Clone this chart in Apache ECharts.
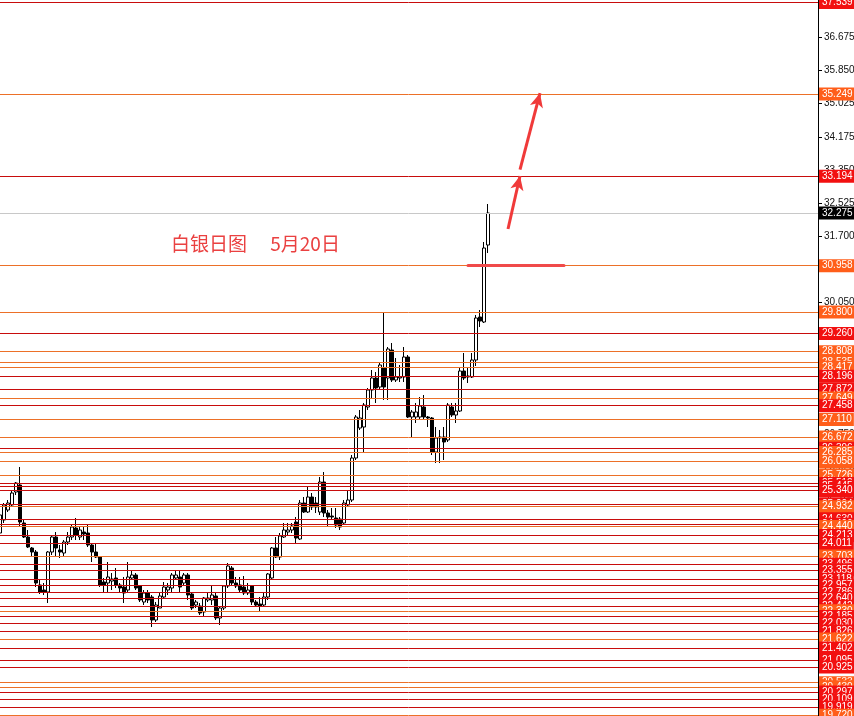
<!DOCTYPE html>
<html>
<head>
<meta charset="utf-8">
<script src="https://cdn.jsdelivr.net/npm/echarts@6/dist/echarts.min.js"></script>
<style>
html,body{margin:0;padding:0;background:#fff;}
#chart{width:854px;height:716px;}
</style>
</head>
<body>
<div id="chart"></div>
<script>
// Daily silver candles: [open, close, low, high]
const candles = [
[24.275,24.725,24.2,24.975],[24.6,24.975,24.525,25.025],[24.85,25.025,24.8,25.1],[24.975,25.275,24.925,25.35],
[25.3,25.525,25.225,25.55],[25.475,24.55,24.425,25.925],[24.525,24.175,24.15,24.6],[24.175,23.925,23.9,24.35],
[23.9,23.8,23.675,23.925],[23.8,23.025,22.925,23.85],[22.975,22.8,22.75,23.125],[22.85,22.8,22.725,23.025],
[22.8,23.8,22.525,23.825],[23.8,24.175,23.725,24.225],[24.175,23.9,23.675,24.3],[23.85,23.8,23.65,23.975],
[23.775,24.05,23.7,24.1],[24.05,24.175,23.975,24.3],[24.175,24.425,24.1,24.475],[24.4,24.225,24.1,24.65],
[24.175,24.35,24.1,24.425],[24.3,24.25,24.1,24.425],[24.275,23.975,23.925,24.5],[23.975,23.8,23.55,24.0],
[23.8,23.675,23.65,24.025],[23.675,22.975,22.925,23.7],[23.05,22.975,22.8,23.15],[23.025,23.175,22.8,23.55],
[23.075,23.125,22.85,23.275],[23.15,22.975,22.9,23.4],[22.975,22.9,22.8,23.025],[22.925,22.775,22.525,23.175],
[22.85,23.175,22.8,23.55],[23.15,23.225,23.1,23.35],[23.225,22.9,22.85,23.275],[22.95,22.6,22.55,22.975],
[22.55,22.775,22.475,22.85],[22.775,22.6,22.525,22.85],[22.675,22.1,21.925,22.725],[22.1,22.475,22.05,22.55],
[22.4,22.7,22.4,22.775],[22.675,22.925,22.65,23.05],[22.85,22.925,22.725,23.025],[22.9,23.225,22.775,23.275],
[23.15,23.225,23.1,23.35],[23.175,22.925,22.8,23.35],[23.025,23.225,22.975,23.275],[23.225,22.725,22.6,23.275],
[22.75,22.4,22.35,22.775],[22.475,22.55,22.4,22.6],[22.45,22.275,22.225,22.525],[22.3,22.65,22.175,22.675],
[22.6,22.65,22.55,22.775],[22.6,22.725,22.475,22.95],[22.7,22.15,22.1,22.775],[22.15,22.4,21.975,22.425],
[22.4,22.95,22.35,22.95],[22.95,23.45,22.9,23.525],[23.4,23.025,22.975,23.45],[23.025,22.95,22.9,23.175],
[22.975,22.85,22.8,23.175],[22.925,22.775,22.725,23.2],[22.775,22.85,22.725,23.025],[22.95,22.55,22.475,22.95],
[22.55,22.475,22.425,22.6],[22.5,22.45,22.3,22.675],[22.475,22.675,22.425,22.775],[22.675,23.25,22.6,23.275],
[23.15,23.9,23.1,23.925],[23.9,23.675,23.65,24.175],[23.675,24.2,23.6,24.275],[24.175,24.35,24.15,24.525],
[24.3,24.35,24.225,24.525],[24.35,24.45,24.275,24.525],[24.55,24.15,24.025,24.675],[24.125,25.025,24.1,25.1],
[25.025,24.8,24.775,25.175],[24.8,25.175,24.775,25.45],[25.175,24.925,24.85,25.275],[25.025,24.925,24.775,25.175],
[24.8,25.55,24.725,25.675],[25.55,24.775,24.675,25.8],[24.775,24.675,24.425,24.85],[24.7,24.675,24.6,24.9],
[24.65,24.475,24.4,24.9],[24.625,24.425,24.35,24.675],[24.525,25.025,24.475,25.1],[24.975,25.1,24.925,25.35],
[25.1,26.15,25.05,26.225],[26.15,27.175,26.1,27.225],[26.9,27.15,26.85,27.35],[26.925,27.475,26.3,27.525],
[27.425,27.85,27.35,27.9],[27.85,28.15,27.65,28.35],[28.15,27.9,27.525,28.3],[27.925,28.475,27.85,28.55],
[28.4,27.925,27.6,29.8],[28.15,28.875,27.6,28.925],[28.85,28.1,28.05,29.025],[28.1,28.175,28.05,28.65],
[28.15,28.175,28.05,28.475],[28.175,28.675,28.05,28.925],[28.675,27.175,27.15,28.725],[27.175,27.3,26.675,27.35],
[27.175,27.3,27.025,27.525],[27.175,27.45,27.1,27.675],[27.425,27.175,27.1,27.725],[27.175,27.15,26.925,27.2],
[27.15,26.3,26.225,27.175],[26.3,26.65,26.025,26.925],[26.65,26.675,26.025,26.85],[26.675,26.55,26.1,26.925],
[26.6,27.475,26.55,27.525],[27.425,27.225,27.175,27.525],[27.225,27.325,27.025,27.525],[27.325,28.325,27.3,28.4],
[28.325,28.15,28.1,28.775],[28.175,28.2,28.025,28.425],[28.175,28.6,28.15,28.775],[28.6,29.65,28.45,29.725],
[29.675,29.575,29.425,29.85],[29.55,31.4,29.525,31.55],[31.475,32.275,31.275,32.5]
];
const slotCount = 205;
const categories = [];
for (let i = 0; i < slotCount; i++) categories.push(String(i + 1));

const redLevels = [37.539,33.194,29.260,28.196,27.872,27.458,26.396,25.512,25.445,25.340,25.004,24.630,24.496,
  24.213,24.011,23.496,23.355,23.118,22.957,22.786,22.640,22.442,22.185,22.030,21.826,21.402,21.095,20.925,
  20.297,20.109,19.919];
const orangeLevels = [35.249,30.958,29.800,28.808,28.535,28.417,27.649,27.110,26.672,26.285,26.058,25.726,
  24.932,24.440,23.703,22.330,21.622,20.533,20.430,19.720];
const currentPrice = 32.275;
const tickLabels = [36.675,35.850,35.025,34.175,33.350,32.525,31.700,30.875,30.050,29.225,28.400,27.575,
  26.750,25.925,25.100,24.275,23.450,22.625,21.800,20.975,20.150];

// hand-drawn annotations (category index, price)
const supportBar = [[117,30.975],[141,30.975]];
const arrow1 = [[127,31.875],[130,33.2]];
const arrow2 = [[130,33.36],[135,35.27]];
const noteText = '白银日图　 5月20日';

const RED_LINE = '#c80c0c', RED_BG = '#f21010';
const OR_LINE = '#ec7028', OR_BG = '#ff5e1a';

const levels = redLevels.map(v => ({v, k:'r'})).concat(orangeLevels.map(v => ({v, k:'o'})))
  .sort((a,b) => b.v - a.v);

const lineData = levels.map(l => ({
  name: l.v.toFixed(3),
  yAxis: l.v,
  lineStyle: {color: l.k === 'r' ? RED_LINE : OR_LINE, width: 1, type: 'solid'},
  label: {backgroundColor: l.k === 'r' ? RED_BG : OR_BG}
}));
lineData.unshift({
  name: currentPrice.toFixed(3),
  yAxis: currentPrice,
  lineStyle: {color: '#c8c8c8', width: 1, type: 'solid'},
  label: {backgroundColor: '#000'}
});

const labelFont = '"Liberation Sans", Arial, sans-serif';

const chart = echarts.init(document.getElementById('chart'), null, {renderer: 'canvas'});
chart.setOption({
  animation: false,
  backgroundColor: '#fff',
  title: {
    text: noteText, left: 171, top: 234, padding: 0,
    textStyle: {color: '#ea4141', fontSize: 19, fontWeight: 'normal', fontFamily: '"Noto Sans CJK SC", sans-serif'}
  },
  grid: {left: -2, right: 36, top: 0, bottom: 0, containLabel: false, outerBoundsMode: 'none'},
  xAxis: {
    type: 'category', data: categories, boundaryGap: true,
    axisLine: {show: false}, axisTick: {show: false}, axisLabel: {show: false}, splitLine: {show: false}
  },
  yAxis: {
    type: 'value', position: 'right', min: 19.7, max: 37.6, scale: true,
    axisLine: {show: true, lineStyle: {color: '#000', width: 1}},
    axisTick: {show: true, length: 4, lineStyle: {color: '#000'}, customValues: tickLabels},
    axisLabel: {
      show: true, customValues: tickLabels, margin: 6, color: '#111', fontSize: 10, fontFamily: labelFont,
      formatter: v => v.toFixed(3)
    },
    splitLine: {show: false}
  },
  series: [
    {
      type: 'line', data: [], z: 1, silent: true,
      markLine: {
        silent: true, symbol: 'none', animation: false, precision: 3,
        label: {
          show: true, position: 'end', distance: 1, color: '#fff', fontSize: 10, fontFamily: labelFont,
          padding: [1, 2, 1, 3], lineHeight: 11,
          formatter: p => p.name
        },
        data: lineData
      }
    },
    {
      type: 'candlestick', data: candles, z: 2, barWidth: 3,
      itemStyle: {color: '#fff', color0: '#000', borderColor: '#000', borderColor0: '#000', borderWidth: 1}
    },
    {
      type: 'line', data: [], z: 3, silent: true,
      markLine: {
        silent: true, animation: false, label: {show: false},
        data: [
          [{coord: supportBar[0], symbol: 'none', lineStyle: {color: '#f04a4a', width: 3, type: 'solid', cap: 'round'}},
           {coord: supportBar[1], symbol: 'none'}],
          [{coord: arrow1[0], symbol: 'none', lineStyle: {color: '#f03a3a', width: 3, type: 'solid'}},
           {coord: arrow1[1], symbol: 'arrow', symbolSize: [10, 14]}],
          [{coord: arrow2[0], symbol: 'none', lineStyle: {color: '#f03a3a', width: 3, type: 'solid'}},
           {coord: arrow2[1], symbol: 'arrow', symbolSize: [10, 14]}]
        ]
      }
    }
  ]
});
</script>
</body>
</html>
